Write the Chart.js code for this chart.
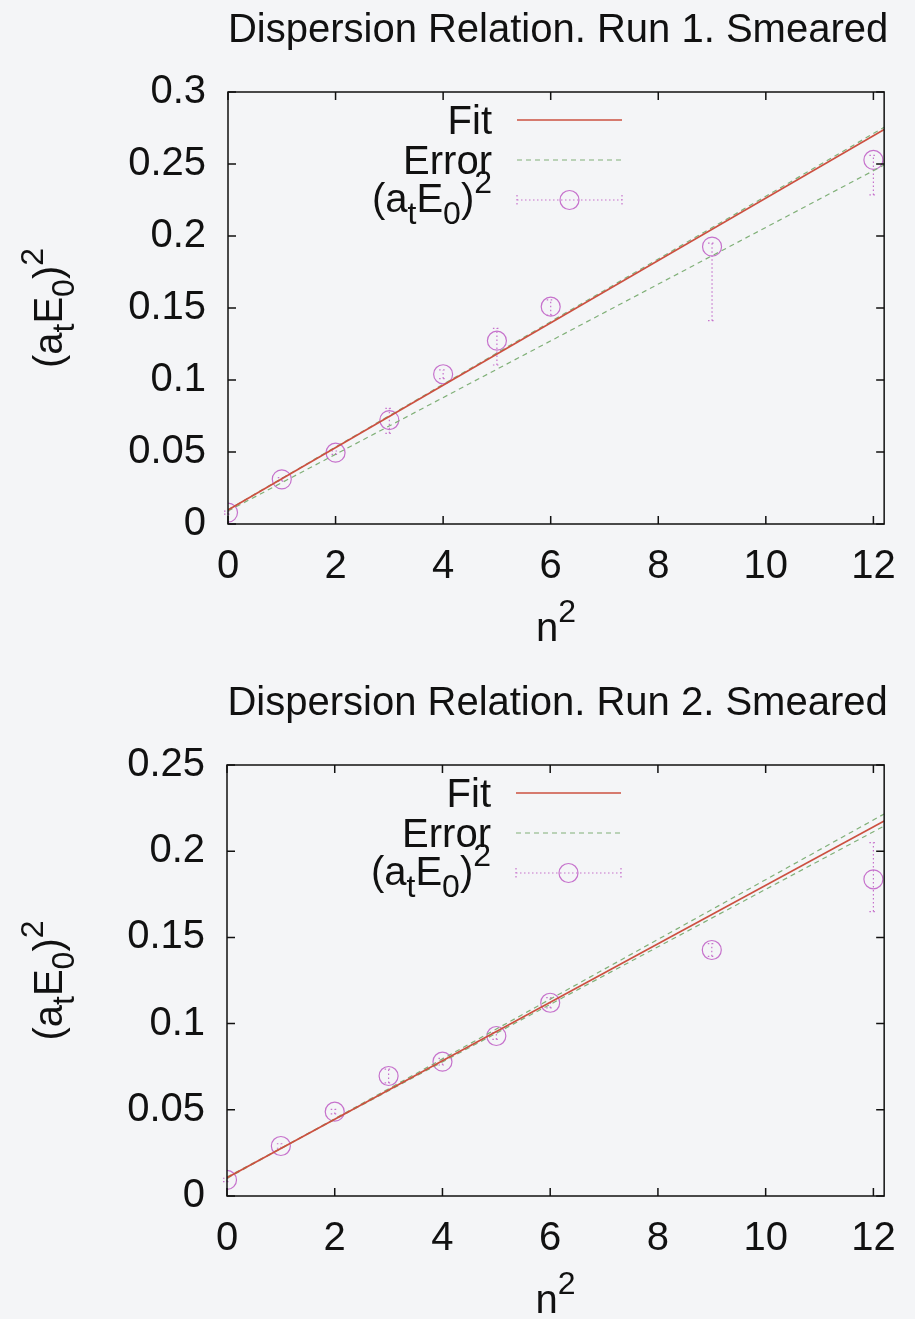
<!DOCTYPE html>
<html>
<head>
<meta charset="utf-8">
<script src="https://cdn.jsdelivr.net/npm/chart.js@4.4.0/dist/chart.umd.min.js"></script>
<style>
  body { margin: 0; background: #f4f5f7; }
  .box { position: absolute; left: 0; width: 915px; }
</style>
</head>
<body>
<div class="box" style="top:0;height:660px"><canvas id="c1"></canvas></div>
<div class="box" style="top:660px;height:659px"><canvas id="c2"></canvas></div>
<script>
// values
const n2 = [0, 1, 2, 3, 4, 5, 6, 9, 12];
const xTicks = [0, 2, 4, 6, 8, 10, 12];
const fitX = [0, 12.2];

// run 1
const run1E  = [0.0079, 0.0310, 0.0495, 0.0722, 0.1040, 0.1273, 0.1509, 0.1926, 0.2528];
const run1Lo = [0.0068, 0.0298, 0.0483, 0.0630, 0.1010, 0.1104, 0.1450, 0.1412, 0.2285];
const run1Hi = [0.0090, 0.0322, 0.0507, 0.0803, 0.1070, 0.1359, 0.1556, 0.1950, 0.2560];
const run1Fit   = [0.0097, 0.2740];
const run1ErrHi = [0.0099, 0.2755];
const run1ErrLo = [0.0090, 0.2493];
const run1YTicks = [0, 0.05, 0.1, 0.15, 0.2, 0.25, 0.3];

// run 2
const run2E  = [0.0093, 0.0290, 0.0489, 0.0696, 0.0779, 0.0928, 0.1121, 0.1427, 0.1837];
const run2Lo = [0.0083, 0.0277, 0.0476, 0.0656, 0.0760, 0.0908, 0.1091, 0.1390, 0.1650];
const run2Hi = [0.0103, 0.0303, 0.0502, 0.0736, 0.0798, 0.0948, 0.1151, 0.1464, 0.2050];
const run2Fit   = [0.0106, 0.2175];
const run2ErrHi = [0.0102, 0.2216];
const run2ErrLo = [0.0110, 0.2146];
const run2YTicks = [0, 0.05, 0.1, 0.15, 0.2, 0.25];

const FONT = '"Liberation Sans", Arial, Helvetica, sans-serif';
const FS = 40;
const RED = '#cc5040', GREEN = '#80b078', MAG = '#c672cc';

const aE = [['(a', 0], ['t', -1], ['E', 0], ['0', -1], [')', 0], ['2', 1]];
const nSq = [['n', 0], ['2', 1]];

function rich(ctx, parts, x, y, size, align) {
  let w = 0;
  parts.forEach(p => {
    ctx.font = (p[1] ? size * 0.8 : size) + 'px ' + FONT;
    w += ctx.measureText(p[0]).width;
  });
  let cx = align === 'right' ? x - w : align === 'center' ? x - w / 2 : x;
  ctx.textAlign = 'left';
  ctx.textBaseline = 'alphabetic';
  parts.forEach(p => {
    ctx.font = (p[1] ? size * 0.8 : size) + 'px ' + FONT;
    const dy = p[1] === -1 ? size * 0.3 : p[1] === 1 ? -size * 0.48 : 0;
    ctx.fillText(p[0], cx, y + dy);
    cx += ctx.measureText(p[0]).width;
  });
}

const decor = {
  id: 'decor',
  beforeDatasetsDraw(chart, args, o) {
    const ctx = chart.ctx, xs = chart.scales.x, ys = chart.scales.y;
    ctx.save();
    ctx.strokeStyle = MAG;
    ctx.lineWidth = 1.2;
    ctx.setLineDash([1.5, 2.5]);
    o.lo.forEach((lo, i) => {
      const px = xs.getPixelForValue(n2[i]);
      const p1 = ys.getPixelForValue(lo), p2 = ys.getPixelForValue(o.hi[i]);
      ctx.beginPath();
      ctx.moveTo(px, p1); ctx.lineTo(px, p2);
      ctx.moveTo(px - 4, p1); ctx.lineTo(px + 4, p1);
      ctx.moveTo(px - 4, p2); ctx.lineTo(px + 4, p2);
      ctx.stroke();
    });
    ctx.restore();
  },
  afterDraw(chart, args, o) {
    const ctx = chart.ctx, a = chart.chartArea, xs = chart.scales.x, ys = chart.scales.y;
    ctx.save();
    // frame and inward ticks
    ctx.strokeStyle = '#111';
    ctx.lineWidth = 1.5;
    ctx.setLineDash([]);
    ctx.strokeRect(a.left, a.top, a.right - a.left, a.bottom - a.top);
    ctx.beginPath();
    xTicks.forEach(v => {
      const px = xs.getPixelForValue(v);
      ctx.moveTo(px, a.bottom); ctx.lineTo(px, a.bottom - 8);
      ctx.moveTo(px, a.top); ctx.lineTo(px, a.top + 8);
    });
    o.yTicks.forEach(v => {
      const py = ys.getPixelForValue(v);
      ctx.moveTo(a.left, py); ctx.lineTo(a.left + 8, py);
      ctx.moveTo(a.right, py); ctx.lineTo(a.right - 8, py);
    });
    ctx.stroke();

    ctx.fillStyle = '#111';
    const mid = (a.left + a.right) / 2;
    // title
    ctx.font = FS + 'px ' + FONT;
    ctx.textAlign = 'center';
    ctx.textBaseline = 'middle';
    ctx.fillText(o.title, mid + 2, a.top - 61);
    // axis titles
    rich(ctx, nSq, mid, a.bottom + 117, FS, 'center');
    ctx.save();
    ctx.translate(62, (a.top + a.bottom) / 2);
    ctx.rotate(-Math.PI / 2);
    rich(ctx, aE, 0, 0, FS, 'center');
    ctx.restore();

    // legend
    const tr = a.left + 264, l0 = a.left + 289, l1 = a.left + 394;
    const rows = [a.top + 28, a.top + 68, a.top + 108];
    ctx.font = FS + 'px ' + FONT;
    ctx.textAlign = 'right';
    ctx.textBaseline = 'alphabetic';
    ctx.fillText('Fit', tr, rows[0] + 14);
    ctx.fillText('Error', tr, rows[1] + 14);
    rich(ctx, aE, tr, rows[2] + 12, FS, 'right');

    ctx.lineWidth = 1.6;
    ctx.strokeStyle = RED;
    ctx.beginPath(); ctx.moveTo(l0, rows[0]); ctx.lineTo(l1, rows[0]); ctx.stroke();
    ctx.lineWidth = 1.2;
    ctx.strokeStyle = GREEN;
    ctx.setLineDash([5, 4]);
    ctx.beginPath(); ctx.moveTo(l0, rows[1]); ctx.lineTo(l1, rows[1]); ctx.stroke();
    ctx.strokeStyle = MAG;
    ctx.setLineDash([1.5, 2.5]);
    ctx.beginPath();
    ctx.moveTo(l0, rows[2]); ctx.lineTo(l1, rows[2]);
    ctx.moveTo(l0, rows[2] - 5); ctx.lineTo(l0, rows[2] + 5);
    ctx.moveTo(l1, rows[2] - 5); ctx.lineTo(l1, rows[2] + 5);
    ctx.stroke();
    ctx.setLineDash([]);
    ctx.beginPath();
    ctx.arc((l0 + l1) / 2, rows[2], 9.5, 0, Math.PI * 2);
    ctx.stroke();
    ctx.restore();
  }
};

function pts(xv, yv) { return xv.map((x, i) => ({ x: x, y: yv[i] })); }

function makeChart(id, cfg) {
  return new Chart(document.getElementById(id), {
    type: 'scatter',
    data: {
      datasets: [
        { type: 'line', data: pts(fitX, cfg.fit), borderColor: RED, borderWidth: 1.6, pointRadius: 0 },
        { type: 'line', data: pts(fitX, cfg.errHi), borderColor: GREEN, borderWidth: 1.2, borderDash: [5, 4], pointRadius: 0 },
        { type: 'line', data: pts(fitX, cfg.errLo), borderColor: GREEN, borderWidth: 1.2, borderDash: [5, 4], pointRadius: 0 },
        { data: pts(n2, cfg.e), borderColor: MAG, backgroundColor: 'rgba(0,0,0,0)', borderWidth: 1.2, pointRadius: 9.5, pointHoverRadius: 9.5 }
      ]
    },
    options: {
      responsive: true,
      maintainAspectRatio: false,
      animation: false,
      layout: { padding: { top: cfg.top, right: 22, left: 0, bottom: 0 } },
      plugins: {
        legend: { display: false },
        title: { display: false },
        tooltip: { enabled: false },
        decor: { title: cfg.title, lo: cfg.lo, hi: cfg.hi, yTicks: cfg.yTicks }
      },
      scales: {
        x: {
          type: 'linear', min: 0, max: 12.2,
          afterBuildTicks: s => { s.ticks = xTicks.map(v => ({ value: v })); },
          afterFit: s => { s.height = cfg.xh; },
          grid: { display: false, drawTicks: false },
          border: { display: false },
          ticks: { color: '#111', padding: 19, font: { family: FONT, size: FS }, maxRotation: 0 }
        },
        y: {
          type: 'linear', min: 0, max: cfg.yMax,
          afterBuildTicks: s => { s.ticks = cfg.yTicks.map(v => ({ value: v })); },
          afterFit: s => { s.width = cfg.yw; },
          grid: { display: false, drawTicks: false },
          border: { display: false },
          ticks: { color: '#111', padding: 22, font: { family: FONT, size: FS },
                   callback: v => String(+v.toFixed(2)) }
        }
      }
    },
    plugins: [decor]
  });
}

makeChart('c1', {
  title: 'Dispersion Relation. Run 1. Smeared',
  e: run1E, lo: run1Lo, hi: run1Hi, fit: run1Fit, errHi: run1ErrHi, errLo: run1ErrLo,
  yTicks: run1YTicks, yMax: 0.3, top: 92, xh: 136, yw: 228
});
makeChart('c2', {
  title: 'Dispersion Relation. Run 2. Smeared',
  e: run2E, lo: run2Lo, hi: run2Hi, fit: run2Fit, errHi: run2ErrHi, errLo: run2ErrLo,
  yTicks: run2YTicks, yMax: 0.25, top: 105, xh: 123, yw: 227
});
</script>
</body>
</html>
